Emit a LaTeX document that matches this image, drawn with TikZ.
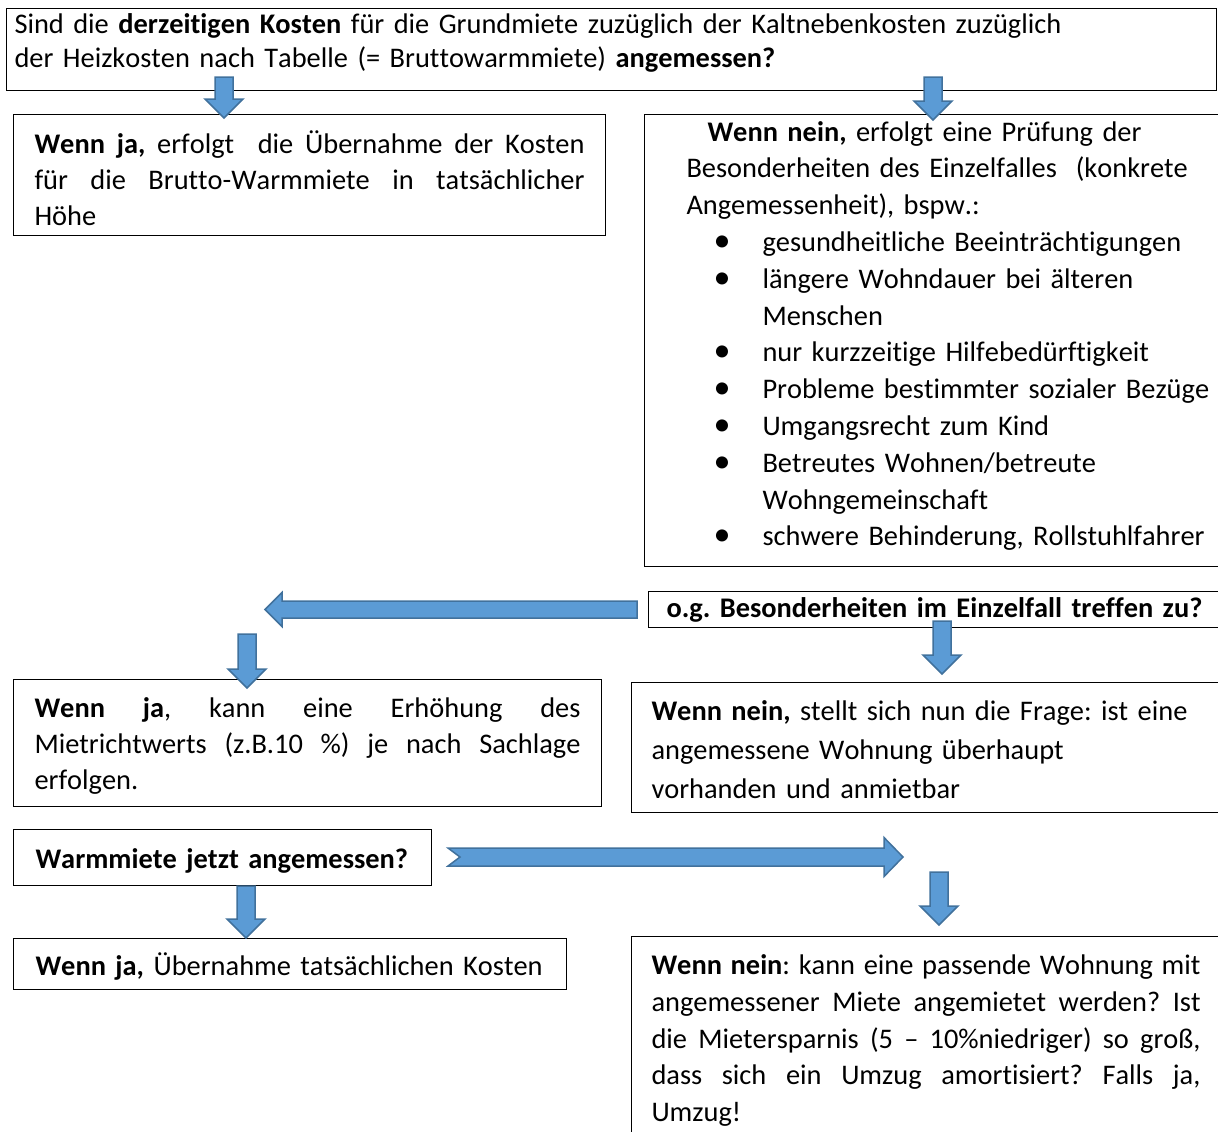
\documentclass[tikz,border=0pt]{standalone}
\usepackage{fontspec}
\setmainfont{Carlito}[Ligatures=NoCommon, Kerning=Off]
\usepackage{tikz}
\usetikzlibrary{positioning,calc}

\definecolor{arrowblue}{HTML}{5B9BD5}
\definecolor{arrowedge}{HTML}{41719C}

% block arrows (start, tip)
\newcommand{\downblock}[2]{%
  \filldraw[blockarrow] let \p1=(#1), \p2=(#2) in
    (\x1-4.5pt,\y1) -- (\x1+4.5pt,\y1) -- (\x1+4.5pt,\y2+9.5pt) -- (\x1+9.5pt,\y2+9.5pt)
    -- (\x1,\y2) -- (\x1-9.5pt,\y2+9.5pt) -- (\x1-4.5pt,\y2+9.5pt) -- cycle;}
\newcommand{\leftblock}[2]{%
  \filldraw[blockarrow] let \p1=(#1), \p2=(#2) in
    (\x1,\y1+4.25pt) -- (\x2+8.5pt,\y1+4.25pt) -- (\x2+8.5pt,\y1+8.5pt) -- (\x2,\y1)
    -- (\x2+8.5pt,\y1-8.5pt) -- (\x2+8.5pt,\y1-4.25pt) -- (\x1,\y1-4.25pt) -- cycle;}
\newcommand{\notchblock}[2]{%
  \filldraw[blockarrow] let \p1=(#1), \p2=(#2) in
    (\x1,\y1+4.5pt) -- (\x2-9.5pt,\y1+4.5pt) -- (\x2-9.5pt,\y1+9.75pt) -- (\x2,\y1)
    -- (\x2-9.5pt,\y1-9.75pt) -- (\x2-9.5pt,\y1-4.5pt) -- (\x1,\y1-4.5pt) -- (\x1+6pt,\y1) -- cycle;}

% bullet lines in the right box
\newcommand{\bitem}[1]{\hspace*{13.5pt}\makebox[24.5pt][l]{\scalebox{1.2}{\textbullet}}#1}
\newcommand{\bcont}[1]{\hspace*{38pt}#1}
% struts to nudge a box text down (first line) or up (last line)
\newcommand{\tallstrut}[1]{\rule{0pt}{#1}}
\newcommand{\deepstrut}[1]{\rule[-#1]{0pt}{0pt}}

\tikzset{
  box/.style={rectangle, draw=black, line width=0.5pt, anchor=north west,
    font=\fontsize{14.2}{18.4}\selectfont\frenchspacing},
  blockarrow/.style={fill=arrowblue, draw=arrowedge, line width=0.75pt, line join=miter}
}

\begin{document}
\begin{tikzpicture}[x=0.5pt, y=-0.5pt]
    \useasboundingbox (0,0) rectangle (1218,1131);

    % question at the top
    \node [box, text width=597pt, inner xsep=4pt, inner ysep=0pt, minimum height=41pt, align=left,
           font=\fontsize{14.2}{17}\selectfont\frenchspacing] (topq) at (6,8) {
        Sind die \textbf{derzeitigen Kosten} für die Grundmiete zuzüglich der Kaltnebenkosten zuzüglich\\
        der Heizkosten nach Tabelle (= Bruttowarmmiete) \textbf{angemessen?}\deepstrut{8.6pt}
    };

    % first answers
    \node [box, text width=275pt, inner xsep=10.5pt, minimum height=60.5pt, align=justify,
           font=\fontsize{14.2}{18}\selectfont\frenchspacing] (jabox1) at (13,114) {
        \tallstrut{14.3pt}\textbf{Wenn ja,} erfolgt\ \ die Übernahme der Kosten\linebreak
        für die Brutto-Warmmiete in tatsächlicher\linebreak
        Höhe
    };

    \node [box, text width=300pt, inner xsep=21pt, minimum height=224.5pt, align=left] (neinbox1) at (644,114) {
        \hspace*{10.5pt}\textbf{Wenn nein,} erfolgt eine Prüfung der\\
        Besonderheiten des Einzelfalles\ \ (konkrete\\
        Angemessenheit), bspw.:\\
        \bitem{gesundheitliche Beeinträchtigungen}\\
        \bitem{längere Wohndauer bei älteren}\\
        \bcont{Menschen}\\
        \bitem{nur kurzzeitige Hilfebedürftigkeit}\\
        \bitem{Probleme bestimmter sozialer Bezüge}\\
        \bitem{Umgangsrecht zum Kind}\\
        \bitem{Betreutes Wohnen/betreute}\\
        \bcont{Wohngemeinschaft}\\
        \bitem{schwere Behinderung, Rollstuhlfahrer}\deepstrut{7.1pt}
    };

    % special cases
    \node [box, text width=290pt, inner xsep=9pt, minimum height=18pt, inner ysep=2pt, align=left] (ogbox) at (648,591) {
        \textbf{o.g. Besonderheiten im Einzelfall treffen zu?}
    };

    \node [box, text width=273pt, inner xsep=10.5pt, minimum height=63.5pt, align=justify,
           font=\fontsize{14.2}{18}\selectfont\frenchspacing] (jabox2) at (13,679) {
        \tallstrut{13.4pt}\textbf{Wenn ja}, kann eine Erhöhung des\linebreak
        Mietrichtwerts (z.B.10 \%) je nach Sachlage\linebreak
        erfolgen.
    };

    \node [box, text width=300pt, inner xsep=10pt, minimum height=65pt, align=left,
           font=\fontsize{14.2}{19.5}\selectfont\frenchspacing] (neinbox2) at (631,682) {
        \tallstrut{12.4pt}\textbf{Wenn nein,} stellt sich nun die Frage: ist eine\\
        angemessene Wohnung überhaupt\\
        vorhanden und anmietbar
    };

    % second check
    \node [box, text width=187pt, inner xsep=11pt, minimum height=28pt, align=left] (warmbox) at (13,829) {
        \tallstrut{13.4pt}\textbf{Warmmiete jetzt angemessen?}
    };

    \node [box, text width=254.5pt, inner xsep=11pt, minimum height=25.5pt, align=left] (jabox3) at (13,938) {
        \tallstrut{14.3pt}\textbf{Wenn ja,} Übernahme tatsächlichen Kosten
    };

    \node [box, text width=274.5pt, inner xsep=10pt, inner ysep=9pt, align=justify] (neinbox3) at (631,936) {
        \textbf{Wenn nein}: kann eine passende Wohnung mit\linebreak
        angemessener Miete angemietet werden? Ist\linebreak
        die Mietersparnis (5 -- 10\%niedriger) so groß,\linebreak
        dass sich ein Umzug amortisiert? Falls ja,\linebreak
        Umzug!
    };

    % free ends of the arrows
    \coordinate (yesturn) at (265,609);
    \coordinate (yesdrop) at (247,634);
    \coordinate (noturn) at (903,857);
    \coordinate (nodrop) at (939,872);

    % arrows
    \downblock{$(topq.south -| 224,0)+(0,-14)$}{$(jabox1.north -| 224,0)+(0,4)$}
    \downblock{$(topq.south -| 933,0)+(0,-14)$}{$(neinbox1.north -| 933,0)+(0,6)$}
    \leftblock{$(ogbox.west)+(-11,0)$}{yesturn}
    \downblock{yesdrop}{$(jabox2.north -| yesdrop)+(0,9)$}
    \downblock{$(ogbox.south -| 942,0)+(0,-7)$}{$(neinbox2.north -| 942,0)+(0,-8)$}
    \notchblock{$(warmbox.east |- noturn)+(16,0)$}{noturn}
    \downblock{nodrop}{$(neinbox3.north -| nodrop)+(0,-11)$}
    \downblock{warmbox.south -| 246,0}{jabox3.north -| 246,0}

\end{tikzpicture}
\end{document}
